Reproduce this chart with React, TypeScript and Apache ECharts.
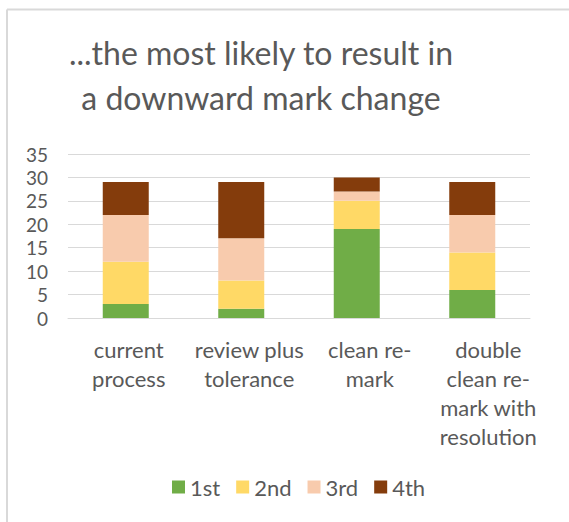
import React, { useEffect, useRef } from "react";
import * as echarts from "echarts";

const titleText = "...the most likely to result in\na downward mark change";
const categories = [
  "current\nprocess",
  "review plus\ntolerance",
  "clean re-\nmark",
  "double\nclean re-\nmark with\nresolution",
];
const seriesNames = ["1st", "2nd", "3rd", "4th"];
const first = [3, 2, 19, 6];
const second = [9, 6, 6, 8];
const third = [10, 9, 2, 8];
const fourth = [7, 12, 3, 7];
const colors = ["#70ad47", "#ffd966", "#f8cbad", "#843c0c"];

const FONT = "Lato";
const TEXT_COLOR = "#595959";
const labelShift = [6, 16, 26, 32];

export default function App() {
  const ref = useRef<HTMLDivElement>(null);
  useEffect(() => {
    document.body.style.margin = "0";
    const chart = echarts.init(ref.current!, undefined, { renderer: "svg" });
    const values = [first, second, third, fourth];
    const rich: Record<string, any> = {};
    labelShift.forEach((s, i) => {
      rich["p" + i] = {
        padding: [0, 0, 0, s],
        fontFamily: FONT,
        fontSize: 22,
        lineHeight: 29,
        color: TEXT_COLOR,
      };
    });
    chart.setOption({
      animation: false,
      backgroundColor: "#ffffff",
      textStyle: { fontFamily: FONT },
      legend: {
        bottom: 19,
        left: 167,
        itemWidth: 13,
        itemHeight: 13,
        itemGap: 16,
        icon: "rect",
        textStyle: { fontFamily: FONT, fontSize: 22, color: TEXT_COLOR },
        data: seriesNames,
      },
      grid: { left: 68, right: 39, top: 154, bottom: 204 },
      xAxis: {
        type: "category",
        data: categories,
        axisLine: { lineStyle: { color: "#d9d9d9", width: 1 } },
        axisTick: { show: false },
        axisLabel: {
          interval: 0,
          margin: 17,
          fontFamily: FONT,
          fontSize: 22,
          lineHeight: 29,
          color: TEXT_COLOR,
          align: "center",
          formatter: (value: string, index: number) => `{p${index}|${value}}`,
          rich,
        },
      },
      yAxis: {
        type: "value",
        min: 0,
        max: 35,
        interval: 5,
        axisLine: { show: false },
        axisTick: { show: false },
        splitLine: { lineStyle: { color: "#d9d9d9", width: 1 } },
        axisLabel: { margin: 20, fontFamily: FONT, fontSize: 19, lineHeight: 20, color: TEXT_COLOR },
      },
      graphic: [
        { type: "line", shape: { x1: 7, y1: 9.5, x2: 569, y2: 9.5 }, style: { stroke: "#d9d9d9", lineWidth: 2 } },
        { type: "line", shape: { x1: 7, y1: 9.5, x2: 7, y2: 522 }, style: { stroke: "#d9d9d9", lineWidth: 2 } },
        {
          type: "text",
          x: 261,
          y: 30,
          style: {
            text: titleText,
            fontFamily: FONT,
            fontSize: 32,
            lineHeight: 45,
            fill: TEXT_COLOR,
            align: "center",
            verticalAlign: "top",
          },
        },
      ],
      series: seriesNames.map((name, i) => ({
        name,
        type: "bar",
        stack: "total",
        barWidth: 46,
        data: values[i],
        itemStyle: { color: colors[i] },
      })),
    });
    return () => chart.dispose();
  }, []);
  return <div ref={ref} style={{ width: 569, height: 522 }} />;
}
